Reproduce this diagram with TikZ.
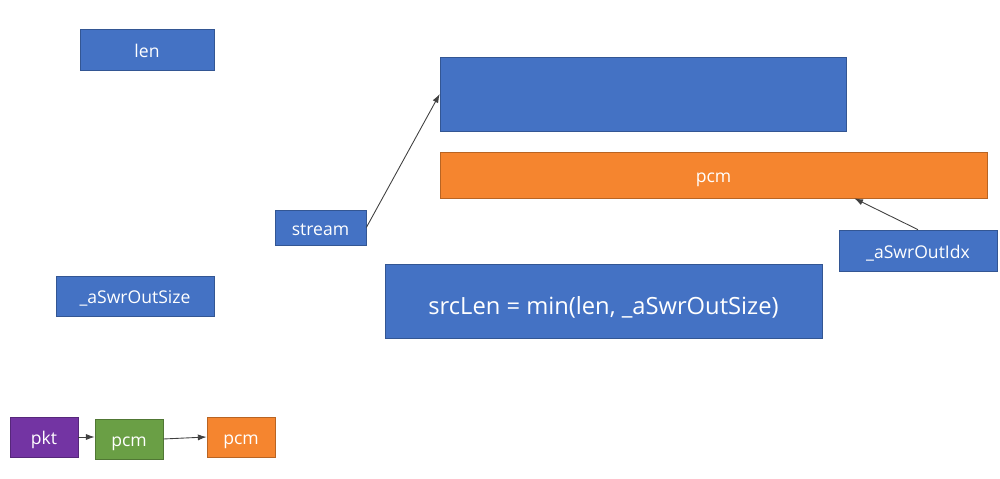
\documentclass[tikz,border=0pt]{standalone}
\usepackage{fontspec}
\setmainfont{Open Sans}
\usetikzlibrary{arrows.meta, calc}

\definecolor{boxblue}{HTML}{4472C4}
\definecolor{boxorange}{HTML}{F5852F}
\definecolor{boxgreen}{HTML}{6A9F45}
\definecolor{boxpurple}{HTML}{7334A3}

\begin{document}
\begin{tikzpicture}[x=0.02cm, y=-0.02cm,
    every node/.style={font=\fontsize{10}{12}\selectfont, text=white, text height=8.6pt, text depth=0pt},
    blk/.style={draw=#1!75!black, fill=#1, line width=0.4pt, rectangle, inner sep=0pt, align=center},
    arrow/.style={-{Latex[length=5pt, width=3.5pt]}, draw=black!75, line width=0.5pt}
]
    \useasboundingbox (0,0) rectangle (1000,479);

    % Variables on the left
    \node (lenbox) [blk=boxblue, minimum width=2.68cm, minimum height=0.82cm] at (147,49.5) {len};
    \node (outsize) [blk=boxblue, minimum width=3.16cm, minimum height=0.80cm] at (135,296) {\_aSwrOutSize};
    \node (stream) [blk=boxblue, minimum width=1.82cm, minimum height=0.70cm] at (320.5,227.5) {stream};

    % Buffers
    \node (bufbox) [blk=boxblue, minimum width=8.12cm, minimum height=1.48cm] at (643,94) {};
    \node (pcmbuf) [blk=boxorange, minimum width=10.94cm, minimum height=0.92cm] at (713.5,175) {pcm};
    \node (outidx) [blk=boxblue, minimum width=3.16cm, minimum height=0.82cm] at (918,250.5) {\_aSwrOutIdx};

    % Formula
    \node (srclen) [blk=boxblue, minimum width=8.74cm, minimum height=1.48cm, font=\fontsize{13.5}{16}\selectfont, text height=15.6pt] at (603.5,301) {srcLen = min(len, \_aSwrOutSize)};

    % Pipeline
    \node (pkt) [blk=boxpurple, minimum width=1.36cm, minimum height=0.80cm] at (44,437) {pkt};
    \node (pcmgreen) [blk=boxgreen, minimum width=1.36cm, minimum height=0.80cm] at (129,439) {pcm};
    \node (pcmout) [blk=boxorange, minimum width=1.36cm, minimum height=0.80cm] at (241,437) {pcm};

    % Arrows
    \draw [arrow] (stream.east) -- (bufbox.west);
    \draw [arrow] (outidx.north) -- ($(pcmbuf.south east)+(-133,0)$);
    \draw [arrow] (pkt.east) -- (pcmgreen.west |- pkt.east);
    \draw [arrow] (pcmgreen.east) -- (pcmout.west);

\end{tikzpicture}
\end{document}
